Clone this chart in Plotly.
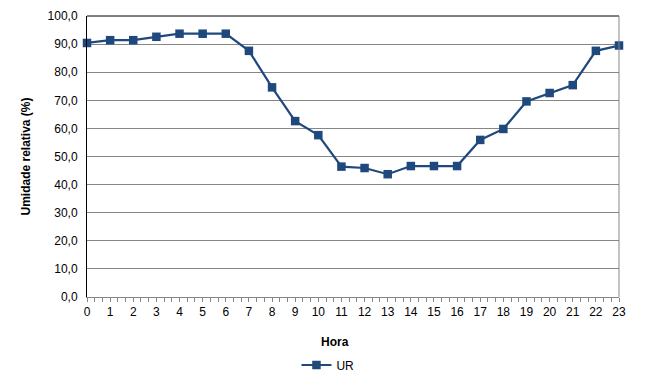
import plotly.graph_objects as go

hours = list(range(24))
ur = [90.4, 91.4, 91.4, 92.6, 93.7, 93.7, 93.7, 87.6, 74.6, 62.6, 57.6, 46.4,
      45.9, 43.7, 46.6, 46.6, 46.6, 55.9, 59.8, 69.6, 72.6, 75.4, 87.6, 89.5]
y_ticks = [0, 10, 20, 30, 40, 50, 60, 70, 80, 90, 100]

blue = "#1F497D"
font = "Liberation Sans"

fig = go.Figure()
fig.add_trace(go.Scatter(
    x=hours, y=ur, mode="lines+markers", name="UR",
    line=dict(color=blue, width=2.2),
    marker=dict(symbol="square", size=8.5, color=blue),
    cliponaxis=False,
))

# page body has an 8px default margin, so the figure is sized/offset to compensate
fig.update_layout(
    width=649, height=381,
    margin=dict(l=79, r=38, t=8, b=92, autoexpand=False),
    paper_bgcolor="white", plot_bgcolor="white",
    separators=",.",
    font=dict(family=font, size=12, color="#000000"),
    showlegend=True,
    legend=dict(orientation="h", xref="container", yref="container",
                x=0.493, xanchor="center", y=0.063, yanchor="middle",
                font=dict(size=12)),
    xaxis=dict(
        range=[0, 23], tickmode="array", tickvals=hours,
        ticktext=[str(h) for h in hours], automargin=False,
        showgrid=False, zeroline=False,
        showline=True, linecolor="#868686", linewidth=1,
        ticks="outside", ticklen=4, tickcolor="#868686",
        minor=dict(dtick=1/3, ticks="outside", ticklen=4, tickcolor="#868686"),
        tickfont=dict(size=12),
    ),
    yaxis=dict(
        range=[0, 100], tickvals=y_ticks, tickformat=".1f", automargin=False,
        showgrid=True, gridcolor="#868686", gridwidth=1,
        zeroline=False, showline=True, linecolor="#000000", linewidth=1,
        ticks="", ticklabelstandoff=6, tickfont=dict(size=12),
    ),
    shapes=[
        dict(type="line", xref="paper", yref="paper", x0=0, x1=1, y0=1, y1=1,
             line=dict(color="#000000", width=1)),
        dict(type="line", xref="paper", yref="paper", x0=1, x1=1, y0=0, y1=1,
             line=dict(color="#868686", width=1)),
    ],
    annotations=[
        dict(text="<b>Hora</b>", xref="paper", yref="paper", x=0.466, y=-0.16,
             showarrow=False, xanchor="center", yanchor="middle", font=dict(size=12)),
        dict(text="<b>Umidade relativa (%)</b>", xref="paper", yref="paper",
             x=-0.1165, y=0.5, textangle=-90, showarrow=False,
             xanchor="center", yanchor="middle", font=dict(size=12)),
    ],
)

fig.write_html("out.html")
